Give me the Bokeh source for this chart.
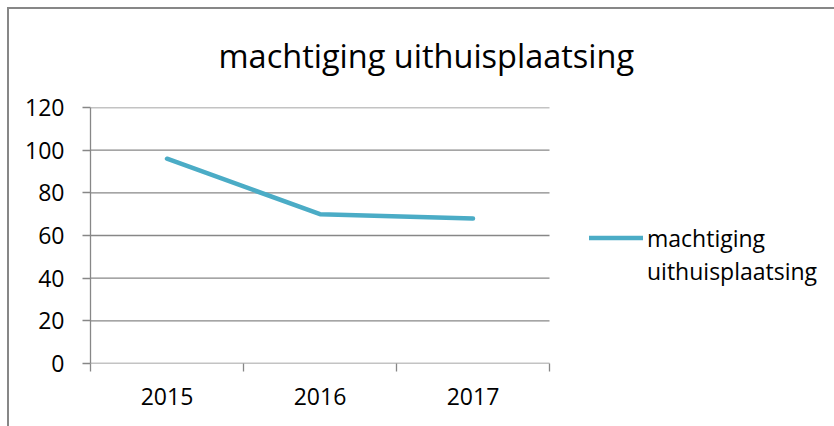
from bokeh.plotting import figure
from bokeh.models import FixedTicker, Range1d, Legend, LegendItem, ColumnDataSource
from bokeh.embed import file_html
from bokeh.resources import INLINE

# ---- data ----
years = ["2015", "2016", "2017"]
values = [96, 70, 68]
series_name = "machtiging uithuisplaatsing"
y_ticks = [0, 20, 40, 60, 80, 100, 120]

n = len(years)
x_pos = [i + 0.5 for i in range(n)]
boundaries = [float(i) for i in range(n + 1)]
src = ColumnDataSource(dict(x=x_pos, y=values, year=years))
grid_src = ColumnDataSource(dict(x0=[0] * len(y_ticks), x1=[n] * len(y_ticks), y=y_ticks))

GRAY = "#878787"
FONT = "Open Sans"
LABEL_SIZE = "23px"

W, H = 834, 426
LEFT, TOP, BOTTOM = 90, 107, 63
PLOT_W = 459  # width of the category area in px
frame_w = W - LEFT

p = figure(width=W, height=H, output_backend="svg", toolbar_location=None,
           x_range=Range1d(0, n * frame_w / PLOT_W), y_range=Range1d(0, 120),
           min_border_left=LEFT, min_border_right=0, min_border_top=TOP,
           min_border_bottom=BOTTOM)
p.styles = {
    "background": "linear-gradient(#878787,#878787) 7px 7px / 2px 100% no-repeat, "
                  "linear-gradient(#878787,#878787) 7px 7px / 100% 2px no-repeat, white"
}
p.border_fill_color = None
p.background_fill_color = None
p.outline_line_color = None

p.title.text = series_name
p.title.text_font = FONT
p.title.text_font_size = "32.5px"
p.title.text_font_style = "normal"
p.title.text_color = "black"
p.title.align = "left"
p.title.offset = 128
p.title.standoff = 60

# y axis
p.yaxis.ticker = FixedTicker(ticks=y_ticks)
p.yaxis.axis_line_color = GRAY
p.yaxis.axis_line_width = 1.3
p.yaxis.major_tick_line_color = GRAY
p.yaxis.major_tick_line_width = 1.3
p.yaxis.major_tick_out = 8
p.yaxis.major_tick_in = 0
p.yaxis.minor_tick_line_color = None
p.yaxis.major_label_standoff = 18
p.yaxis.major_label_text_font = FONT
p.yaxis.major_label_text_font_size = LABEL_SIZE
p.yaxis.major_label_text_color = "black"

# x axis: labels at centers, ticks at category boundaries
p.xaxis.ticker = FixedTicker(ticks=x_pos, minor_ticks=boundaries)
p.xaxis.major_label_overrides = {x: y for x, y in zip(x_pos, years)}
p.xaxis.axis_line_color = None
p.xaxis.major_tick_line_color = None
p.xaxis.minor_tick_line_color = GRAY
p.xaxis.minor_tick_line_width = 1.3
p.xaxis.minor_tick_out = 8
p.xaxis.minor_tick_in = 0
p.xaxis.major_label_standoff = 16
p.xaxis.major_label_text_font = FONT
p.xaxis.major_label_text_font_size = LABEL_SIZE
p.xaxis.major_label_text_color = "black"

p.xgrid.grid_line_color = None
p.ygrid.grid_line_color = None
p.segment(x0="x0", x1="x1", y0="y", y1="y", source=grid_src,
          line_color=GRAY, line_width=1.3)

r = p.line("x", "y", source=src, line_color="#4BACC6", line_width=4.5,
           line_cap="round", line_join="round")
r_blank = p.line("x", "y", source=src, line_alpha=0)

words = series_name.split(" ")
legend = Legend(items=[LegendItem(label=words[0], renderers=[r]),
                       LegendItem(label=" ".join(words[1:]), renderers=[r_blank])],
                location=(499, 76), padding=0, margin=0, spacing=0,
                glyph_width=54, glyph_height=33, label_height=33, label_standoff=4,
                border_line_color=None, background_fill_alpha=0,
                label_text_font=FONT, label_text_font_size=LABEL_SIZE,
                label_text_color="black")
p.add_layout(legend)

open("out.html", "w").write(file_html(p, INLINE))
